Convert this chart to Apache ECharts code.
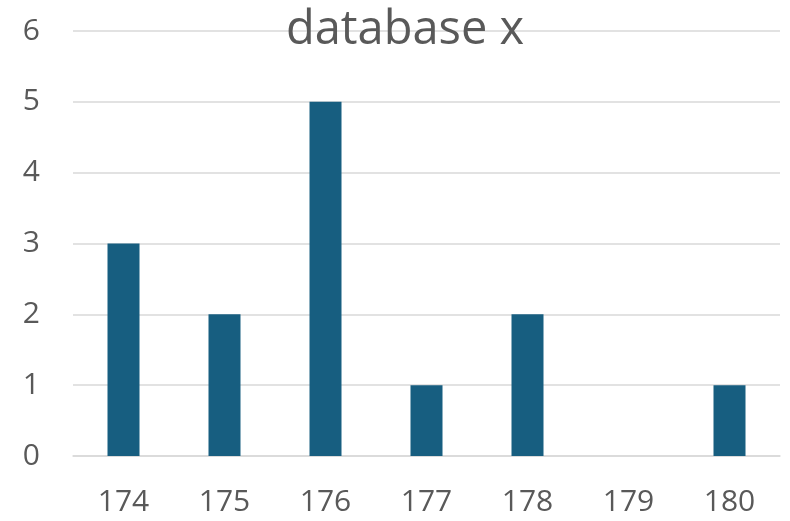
<!DOCTYPE html>
<html><head><meta charset="utf-8">
<script src="https://cdn.jsdelivr.net/npm/echarts@6/dist/echarts.min.js"></script>
<style>html,body{margin:0;padding:0;background:#fff}#c{width:790px;height:521px}</style>
</head><body><div id="c"></div>
<script>
const titleText = 'database x';
const categories = ['174','175','176','177','178','179','180'];
const values = [3, 2, 5, 1, 2, 0, 1];
const chart = echarts.init(document.getElementById('c'), null, {renderer:'canvas'});
chart.setOption({
  animation:false,
  backgroundColor:'#ffffff',
  title:{text:titleText,left:281,top:2,textStyle:{fontFamily:'Open Sans',fontSize:47,fontWeight:'normal',color:'#595959'}},
  grid:{left:73,right:10,top:31,bottom:65,containLabel:false},
  xAxis:{type:'category',data:categories,
    axisLine:{lineStyle:{color:'#d9d9d9',width:1.5}},axisTick:{show:false},
    axisLabel:{fontFamily:'Open Sans',fontSize:30,color:'#595959',margin:31}},
  yAxis:{type:'value',min:0,max:6,interval:1,
    axisLine:{show:false},axisTick:{show:false},
    splitLine:{lineStyle:{color:'#d9d9d9',width:1.5}},
    axisLabel:{fontFamily:'Open Sans',fontSize:30,color:'#595959',margin:33}},
  series:[{type:'bar',data:values,barWidth:32,itemStyle:{color:'#175e80'}}]
});
</script></body></html>
